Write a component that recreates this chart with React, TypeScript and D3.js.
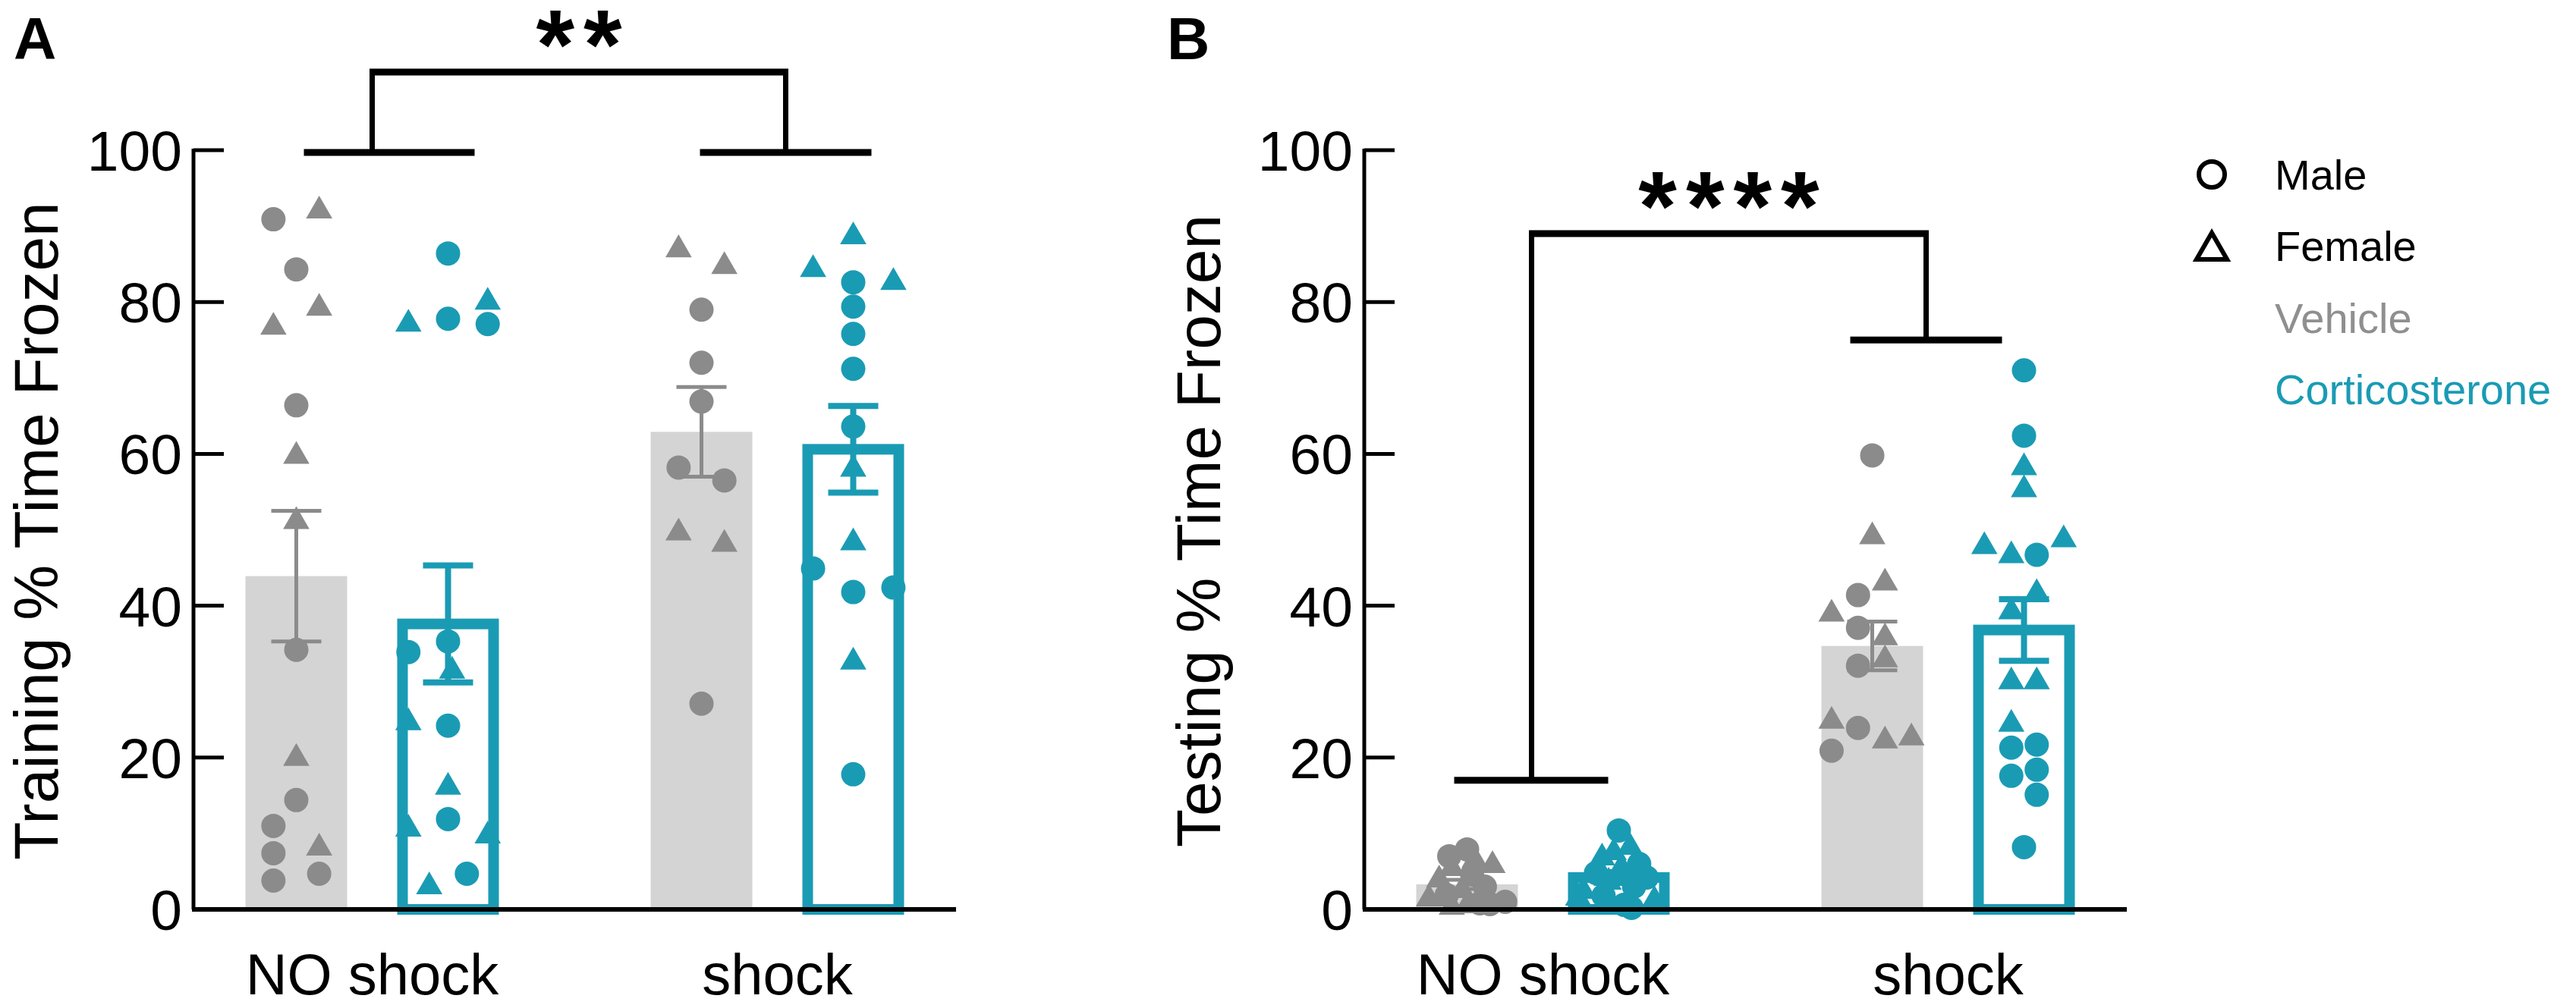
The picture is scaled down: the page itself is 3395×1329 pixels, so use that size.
import * as d3 from 'd3';

type Sex = 'M' | 'F';
// value, sex, horizontal spread inside the bar (-1..1 of half bar width)
type Pt = [number, Sex, number];

const categories = ['NO shock', 'shock'];
const treatments = ['Vehicle', 'Corticosterone'];
const yTicks = [0, 20, 40, 60, 80, 100];

// Panel A - training
const trainVehNo: Pt[] = [
  [90.9, 'M', -0.45], [92, 'F', 0.45], [84.3, 'M', 0], [79.2, 'F', 0.45], [76.7, 'F', -0.45],
  [66.4, 'M', 0], [59.7, 'F', 0], [51.1, 'F', 0], [34.2, 'M', 0], [19.9, 'F', 0],
  [14.4, 'M', 0], [11, 'M', -0.45], [8.1, 'F', 0.45], [7.4, 'M', -0.45], [4.7, 'M', 0.45], [3.8, 'M', -0.45],
];
const trainCortNo: Pt[] = [
  [86.4, 'M', 0], [77.1, 'F', -0.78], [77.8, 'M', 0], [80, 'F', 0.78], [77.1, 'M', 0.78],
  [33.9, 'M', -0.78], [35.3, 'M', 0], [31.4, 'F', 0.08], [24.6, 'F', -0.78], [24.2, 'M', 0],
  [16.1, 'F', 0], [11.9, 'M', 0], [10.6, 'F', -0.78], [9.7, 'F', 0.78], [3, 'F', -0.37], [4.7, 'M', 0.37],
];
const trainVehShock: Pt[] = [
  [86.9, 'F', -0.45], [84.7, 'F', 0.45], [79, 'M', 0], [72, 'M', 0], [66.9, 'M', 0],
  [58.2, 'M', -0.45], [56.5, 'M', 0.45], [49.6, 'F', -0.45], [48.1, 'F', 0.45], [27.1, 'M', 0],
];
const trainCortShock: Pt[] = [
  [88.6, 'F', 0], [84.3, 'F', -0.79], [82.6, 'F', 0.79], [82.6, 'M', 0], [79.4, 'M', 0],
  [75.8, 'M', 0], [71.2, 'M', 0], [63.6, 'M', 0], [58, 'F', 0], [48.3, 'F', 0],
  [44.9, 'M', -0.79], [41.8, 'M', 0], [42.4, 'M', 0.79], [32.6, 'F', 0], [17.8, 'M', 0],
];
const trainMeans = [43.9, 37.6, 62.9, 60.6];
const trainSem = [8.6, 7.7, 5.9, 5.7];

// Panel B - testing
const testVehNo: Pt[] = [
  [7.9, 'M', 0], [7.0, 'M', -0.35], [6.5, 'F', 0.15], [5.8, 'F', 0.5], [5.4, 'F', -0.3],
  [4.6, 'M', 0.1], [3.9, 'F', -0.55], [3.0, 'M', 0.35], [2.5, 'F', -0.1], [1.9, 'M', -0.4],
  [1.4, 'F', -0.75], [1.0, 'M', 0.75], [0.7, 'M', 0.45], [0.5, 'F', 0], [0.3, 'F', -0.3], [0.8, 'M', 0.25],
];
const testCortNo: Pt[] = [
  [10.4, 'M', 0], [8.2, 'F', 0.22], [7.5, 'F', -0.1], [6.8, 'F', -0.33], [6.0, 'M', 0.4],
  [5.5, 'F', 0.05], [4.8, 'M', -0.45], [4.2, 'M', 0.55], [3.6, 'F', -0.2], [3.0, 'M', 0.3],
  [2.4, 'F', -0.7], [1.8, 'M', -0.3], [1.2, 'F', 0.7], [0.6, 'M', 0.1], [0.2, 'M', 0.25], [1.5, 'F', -0.8],
];
const testVehShock: Pt[] = [
  [59.8, 'M', 0], [49.1, 'F', 0], [43, 'F', 0.25], [41.4, 'M', -0.28], [38.9, 'F', -0.8],
  [37.1, 'M', -0.28], [35.8, 'F', 0.25], [32.9, 'F', 0.25], [32.1, 'M', -0.28], [24.8, 'F', -0.8],
  [23.9, 'M', -0.28], [20.9, 'M', -0.8], [22.2, 'F', 0.25], [22.6, 'F', 0.77],
];
const testCortShock: Pt[] = [
  [71, 'M', 0], [62.4, 'M', 0], [58.2, 'F', 0], [55.3, 'F', 0], [47.8, 'F', -0.78],
  [46.6, 'F', -0.25], [46.7, 'M', 0.25], [48.7, 'F', 0.78], [41.6, 'F', 0.25], [39.2, 'F', -0.25],
  [30, 'F', -0.25], [30, 'F', 0.25], [24.4, 'F', -0.25], [21.3, 'M', -0.25], [21.7, 'M', 0.25],
  [17.6, 'M', -0.25], [18.4, 'M', 0.25], [15.1, 'M', 0.25], [8.2, 'M', 0],
];
const testMeans = [3.3, 4.2, 34.7, 36.8];
const testSem = [0.6, 0.7, 3.2, 4.05];

// significance brackets: lower arm height per category, top height
const trainArms = [99.7, 99.7];
const trainTop = 110.3;
const testArms = [17, 75];
const testTop = 89;

const legendShapes = ['Male', 'Female'];
const legendGroups = ['Vehicle', 'Corticosterone'];

const GRAY = '#8b8b8b';
const GRAY_BAR = '#d4d4d4';
const TEAL = '#1a9bb4';
const FONT = '"Liberation Sans", Arial, Helvetica, sans-serif';

const W = 3395;
const H = 1329;
const AXIS_LEN = 1005;
const BAR_W = 134;
const OUT_STROKE = 14;

const y = d3.scaleLinear().domain([0, 100]).range([1199, 198]);
const sub = d3.scalePoint<string>().domain(treatments).range([-100, 100]);

const circlePath = d3.symbol().type(d3.symbolCircle).size(Math.PI * 16 * 16)()!;
const trianglePath = d3.symbol().type(d3.symbolTriangle).size(520)()!;

interface ArmGeom { from: number; to: number; stem: number }

interface PanelProps {
  left: number;
  letter: string;
  letterX: number;
  title: string;
  titleX: number;
  groups: Pt[][];
  means: number[];
  sems: number[];
  arms: number[];
  top: number;
  armGeom: ArmGeom[];
  stars: string;
}

function Panel({ left, letter, letterX, title, titleX, groups, means, sems, arms, top, armGeom, stars }: PanelProps) {
  const x = d3.scalePoint<string>().domain(categories).range([left, left + AXIS_LEN]).padding(0.441);

  const bars = categories.flatMap((c, ci) =>
    treatments.map((t, ti) => ({ cx: x(c)! + sub(t)!, idx: ci * 2 + ti, teal: ti === 1 }))
  );

  const stemX = categories.map((c, i) => x(c)! + armGeom[i].stem);
  const topY = y(top);

  return (
    <g>
      <text x={letterX} y={78} fontSize={78} fontWeight="bold" fontFamily={FONT}>{letter}</text>

      {/* bars */}
      {bars.map(b => b.teal ? (
        <rect key={'b' + b.idx}
          x={b.cx - (BAR_W - OUT_STROKE) / 2}
          y={y(means[b.idx])}
          width={BAR_W - OUT_STROKE}
          height={y(0) - y(means[b.idx])}
          fill="white" stroke={TEAL} strokeWidth={OUT_STROKE} />
      ) : (
        <rect key={'b' + b.idx}
          x={b.cx - BAR_W / 2}
          y={y(means[b.idx])}
          width={BAR_W}
          height={y(0) - y(means[b.idx])}
          fill={GRAY_BAR} />
      ))}

      {/* individual animals */}
      {bars.map(b => groups[b.idx].map((p, i) => (
        <path key={'p' + b.idx + '-' + i}
          d={p[1] === 'M' ? circlePath : trianglePath}
          transform={`translate(${b.cx + p[2] * BAR_W / 2},${y(p[0])})`}
          fill={b.teal ? TEAL : GRAY} />
      )))}

      {/* error bars */}
      {bars.map(b => {
        const col = b.teal ? TEAL : GRAY;
        const sw = b.teal ? 8 : 5;
        const hi = y(means[b.idx] + sems[b.idx]);
        const lo = y(means[b.idx] - sems[b.idx]);
        return (
          <g key={'e' + b.idx} stroke={col} strokeWidth={sw}>
            <line x1={b.cx} x2={b.cx} y1={hi} y2={lo} />
            <line x1={b.cx - 33} x2={b.cx + 33} y1={hi} y2={hi} />
            <line x1={b.cx - 33} x2={b.cx + 33} y1={lo} y2={lo} />
          </g>
        );
      })}

      {/* axes */}
      <line x1={left} x2={left} y1={y(0)} y2={y(100) - 2} stroke="black" strokeWidth={5} />
      <line x1={left - 2} x2={left + AXIS_LEN} y1={y(0)} y2={y(0)} stroke="black" strokeWidth={6} />
      {yTicks.map(t => (
        <g key={'t' + t}>
          <line x1={left} x2={left + 40} y1={y(t)} y2={y(t)} stroke="black" strokeWidth={5} />
          <text x={left - 15} y={y(t) + 27} textAnchor="end" fontSize={75} fontFamily={FONT}>{t}</text>
        </g>
      ))}
      {categories.map(c => (
        <text key={c} x={x(c)} y={1311} textAnchor="middle" fontSize={76} fontFamily={FONT}>{c}</text>
      ))}
      <text transform={`translate(${titleX},700) rotate(-90)`} textAnchor="middle" fontSize={82} fontFamily={FONT}>
        {title}
      </text>

      {/* significance bracket */}
      <g stroke="black">
        {categories.map((c, i) => (
          <g key={'br' + i}>
            <line x1={x(c)! + armGeom[i].from} x2={x(c)! + armGeom[i].to} y1={y(arms[i])} y2={y(arms[i])} strokeWidth={9} />
            <line x1={stemX[i]} x2={stemX[i]} y1={y(arms[i])} y2={topY} strokeWidth={7} />
          </g>
        ))}
        <line x1={stemX[0] - 3.5} x2={stemX[1] + 3.5} y1={topY} y2={topY} strokeWidth={9} />
      </g>
      <text x={(stemX[0] + stemX[1]) / 2 + 6} y={topY - 66 + 75} textAnchor="middle"
        fontSize={130} fontWeight="bold" letterSpacing={12} fontFamily={FONT}>{stars}</text>
    </g>
  );
}

export default function App() {
  const legendY = d3.scalePoint<string>().domain([...legendShapes, ...legendGroups]).range([250, 533]);

  return (
    <svg width={W} height={H} style={{ position: 'absolute', left: 0, top: 0, background: 'white' }}>
      <rect width={W} height={H} fill="white" />
      <Panel
        left={255} letter="A" letterX={18}
        title="Training % Time Frozen" titleX={76}
        groups={[trainVehNo, trainCortNo, trainVehShock, trainCortShock]}
        means={trainMeans} sems={trainSem}
        arms={trainArms} top={trainTop}
        armGeom={[{ from: -90, to: 135, stem: 0 }, { from: -102, to: 124, stem: 11 }]}
        stars="**"
      />
      <Panel
        left={1798} letter="B" letterX={1538}
        title="Testing % Time Frozen" titleX={1608}
        groups={[testVehNo, testCortNo, testVehShock, testCortShock]}
        means={testMeans} sems={testSem}
        arms={testArms} top={testTop}
        armGeom={[{ from: -117, to: 86, stem: -15 }, { from: -129, to: 71, stem: -29 }]}
        stars="****"
      />

      {/* legend */}
      <g fontFamily={FONT} fontSize={56}>
        <circle cx={2915} cy={legendY('Male')! - 20} r={17} fill="none" stroke="black" strokeWidth={6} />
        <path d={d3.symbol().type(d3.symbolTriangle).size(700)()!}
          transform={`translate(2915,${legendY('Female')! - 14})`}
          fill="none" stroke="black" strokeWidth={6} strokeLinejoin="miter" />
        {legendShapes.map(s => (
          <text key={s} x={2998} y={legendY(s)} fill="black">{s}</text>
        ))}
        {legendGroups.map((g, i) => (
          <text key={g} x={2998} y={legendY(g)} fill={i === 0 ? '#8f8f8f' : TEAL}>{g}</text>
        ))}
      </g>
    </svg>
  );
}
